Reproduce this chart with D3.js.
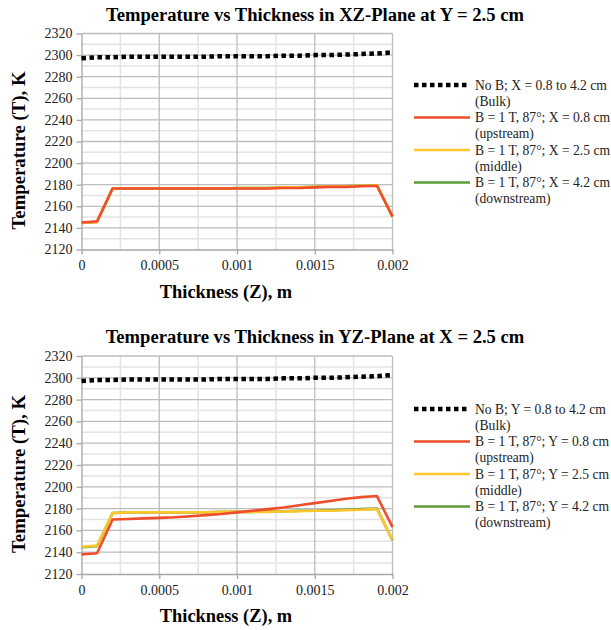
<!DOCTYPE html>
<html>
<head>
<meta charset="utf-8">
<script src="https://cdn.jsdelivr.net/npm/d3@7"></script>
<style>
  body { margin: 0; background: #fff; }
  svg text { font-family: "Liberation Serif", "DejaVu Serif", serif; }
</style>
</head>
<body>
<svg id="myGraph" width="611" height="630"></svg>
<script>
var zVals = [0, 0.0001, 0.0002, 0.0003, 0.0004, 0.0005, 0.0006, 0.0007, 0.0008, 0.0009, 0.001,
             0.0011, 0.0012, 0.0013, 0.0014, 0.0015, 0.0016, 0.0017, 0.0018, 0.0019, 0.002];

// XZ plane (top chart)
var bulkXZ   = [2297, 2298, 2298, 2298.5, 2298.5, 2298.5, 2298.5, 2298.5, 2298.5, 2299, 2299,
                2299, 2299, 2299.5, 2299.5, 2300, 2300, 2300.5, 2301, 2301.5, 2302.5];
var upXZ     = [2145, 2146, 2176.5, 2176.5, 2176.5, 2176.5, 2176.5, 2176.5, 2176.5, 2176.5, 2176.5,
                2176.5, 2176.5, 2177, 2177, 2177.5, 2178, 2178, 2178.5, 2179, 2150.5];
var midXZ    = [2144.5, 2145.5, 2176.5, 2176.5, 2176.5, 2176.5, 2176.5, 2176.5, 2176.5, 2176.5, 2177,
                2177, 2177, 2177.5, 2177.5, 2178, 2178.5, 2178.5, 2179, 2179.5, 2150.5];
var downXZ   = [2144.5, 2145.5, 2176.5, 2176.5, 2176.5, 2176.5, 2176.5, 2176.5, 2176.5, 2176.5, 2177,
                2177, 2177, 2177.5, 2177.5, 2178, 2178.5, 2178.5, 2179, 2179.5, 2150.5];

// YZ plane (bottom chart)
var bulkYZ   = [2297, 2298, 2298, 2298.5, 2298.5, 2298.5, 2298.5, 2298.5, 2298.5, 2299, 2299,
                2299, 2299, 2299.5, 2299.5, 2300, 2300, 2300.5, 2301, 2301.5, 2302.5];
var upYZ     = [2138, 2139, 2170, 2170.5, 2171, 2171.5, 2172, 2173, 2174, 2175, 2176.5,
                2178, 2179.5, 2181, 2183, 2185, 2187, 2189, 2190.5, 2191.5, 2163];
var midYZ    = [2145, 2146, 2176, 2176.5, 2176.5, 2176.5, 2176.5, 2176.5, 2176.5, 2177, 2177,
                2177, 2177, 2177.5, 2177.5, 2178, 2178, 2178.5, 2179, 2179.5, 2151.5];
var downYZ   = [2144.5, 2145.5, 2176, 2176.5, 2176.5, 2176.5, 2176.5, 2176.5, 2176.5, 2177, 2177,
                2177, 2177.5, 2177.5, 2178, 2178, 2178.5, 2179, 2179.5, 2180, 2151];

var xTicks = [0, 0.0005, 0.001, 0.0015, 0.002];
var xTickLabels = ["0", "0.0005", "0.001", "0.0015", "0.002"];
var yTicks = [2120, 2140, 2160, 2180, 2200, 2220, 2240, 2260, 2280, 2300, 2320];

var legendXZ = [["No B; X = 0.8 to 4.2 cm", "(Bulk)"],
                ["B = 1 T, 87°; X = 0.8 cm", "(upstream)"],
                ["B = 1 T, 87°; X = 2.5 cm", "(middle)"],
                ["B = 1 T, 87°; X = 4.2 cm", "(downstream)"]];
var legendYZ = [["No B; Y = 0.8 to 4.2 cm", "(Bulk)"],
                ["B = 1 T, 87°; Y = 0.8 cm", "(upstream)"],
                ["B = 1 T, 87°; Y = 2.5 cm", "(middle)"],
                ["B = 1 T, 87°; Y = 4.2 cm", "(downstream)"]];

var colors = ["#000000", "#f04e2a", "#fcc62e", "#5d9c3c"];

var svg = d3.select("#myGraph");

function drawChart(top, bottom, title, series, legend, legTop) {
  var x = d3.scaleLinear().domain([0, 0.002]).range([81.5, 392.5]);
  var y = d3.scaleLinear().domain([2120, 2320]).range([bottom, top]);
  var g = svg.append("g");

  // minor grid
  var minorX = [0.00025, 0.00075, 0.00125, 0.00175];
  g.selectAll(".mx").data(minorX).enter().append("line")
    .attr("x1", function(d){ return x(d); }).attr("x2", function(d){ return x(d); })
    .attr("y1", top).attr("y2", bottom)
    .attr("stroke", "#e3e3e3").attr("stroke-width", 1.5);
  var minorY = [2130, 2150, 2170, 2190, 2210, 2230, 2250, 2270, 2290, 2310];
  g.selectAll(".my").data(minorY).enter().append("line")
    .attr("x1", x(0)).attr("x2", x(0.002))
    .attr("y1", function(d){ return y(d); }).attr("y2", function(d){ return y(d); })
    .attr("stroke", "#e3e3e3").attr("stroke-width", 1.5);

  // major grid
  g.selectAll(".gx").data(xTicks.slice(1)).enter().append("line")
    .attr("x1", function(d){ return x(d); }).attr("x2", function(d){ return x(d); })
    .attr("y1", top).attr("y2", bottom)
    .attr("stroke", "#bdbdbd").attr("stroke-width", 1.3);
  g.selectAll(".gy").data(yTicks.slice(1)).enter().append("line")
    .attr("x1", x(0)).attr("x2", x(0.002))
    .attr("y1", function(d){ return y(d); }).attr("y2", function(d){ return y(d); })
    .attr("stroke", "#bdbdbd").attr("stroke-width", 1.3);

  // axes
  var xAxis = d3.axisBottom(x).tickValues(xTicks)
    .tickFormat(function(d, i){ return xTickLabels[i]; })
    .tickSizeInner(5).tickSizeOuter(0).tickPadding(6);
  var xg = g.append("g").attr("transform", "translate(0," + bottom + ")").call(xAxis);
  var yAxis = d3.axisLeft(y).tickValues(yTicks).tickFormat(d3.format("d"))
    .tickSizeInner(5).tickSizeOuter(0).tickPadding(4);
  var yg = g.append("g").attr("transform", "translate(" + x(0) + ",0)").call(yAxis);
  [xg, yg].forEach(function(a){
    a.attr("font-family", null);
    a.selectAll("path, line").attr("stroke", "#a6a6a6").attr("stroke-width", 1.3);
    a.selectAll("text").style("font-family", "'Liberation Serif', serif")
      .attr("font-size", 14).attr("fill", "#222");
  });

  // lines
  var line = d3.line()
    .x(function(d, i){ return x(zVals[i]); })
    .y(function(d){ return y(d); });
  var order = [3, 2, 1, 0];
  order.forEach(function(k){
    var p = g.append("path").datum(series[k])
      .attr("d", line).attr("fill", "none")
      .attr("stroke", colors[k]).attr("stroke-linejoin", "round");
    if (k === 0) {
      p.attr("stroke-width", 4.5).attr("stroke-dasharray", "4.5,3.5");
    } else {
      p.attr("stroke-width", 2.6);
    }
  });

  // titles
  svg.append("text").attr("x", 315).attr("y", top - 13)
    .attr("text-anchor", "middle").attr("font-weight", "bold").attr("font-size", 18.6)
    .text(title);
  svg.append("text").attr("x", 226).attr("y", bottom + 48)
    .attr("text-anchor", "middle").attr("font-weight", "bold").attr("font-size", 18.4)
    .text("Thickness (Z), m");
  svg.append("text")
    .attr("transform", "translate(25," + ((top + bottom) / 2 + 9) + ") rotate(-90)")
    .attr("text-anchor", "middle").attr("font-weight", "bold").attr("font-size", 18.4)
    .attr("textLength", 158).attr("lengthAdjust", "spacingAndGlyphs")
    .text("Temperature (T), K");

  // legend
  var lg = svg.append("g");
  legend.forEach(function(lab, i){
    var ly = legTop + i * 32.5;
    var ln = lg.append("line").attr("x1", 414).attr("x2", 470)
      .attr("y1", ly).attr("y2", ly).attr("stroke", colors[i]);
    if (i === 0) ln.attr("stroke-width", 4.5).attr("stroke-dasharray", "4.5,3.5");
    else ln.attr("stroke-width", 2.6);
    var t = lg.append("text").attr("x", 475).attr("y", ly + 4.5)
      .attr("font-size", 13.6).attr("fill", "#222");
    t.append("tspan").attr("x", 475).text(lab[0]);
    t.append("tspan").attr("x", 475).attr("dy", 16).text(lab[1]);
  });
}

drawChart(33.5, 249.5, "Temperature vs Thickness in XZ-Plane at Y = 2.5 cm",
          [bulkXZ, upXZ, midXZ, downXZ], legendXZ, 85);
drawChart(356, 574, "Temperature vs Thickness in YZ-Plane at X = 2.5 cm",
          [bulkYZ, upYZ, midYZ, downYZ], legendYZ, 409);
</script>
</body>
</html>
